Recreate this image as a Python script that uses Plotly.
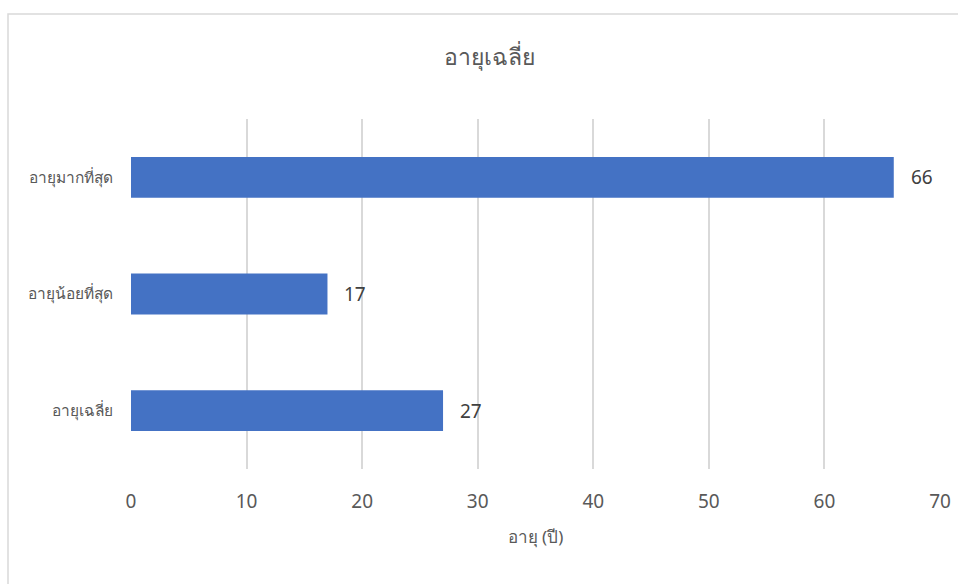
import plotly.graph_objects as go

categories = ["อายุเฉลี่ย", "อายุน้อยที่สุด", "อายุมากที่สุด"]
values = [27, 17, 66]
x_ticks = [0, 10, 20, 30, 40, 50, 60, 70]
title_text = "อายุเฉลี่ย"
x_title = "อายุ (ปี)"

FONT = "Noto Sans, Segoe UI, sans-serif"

fig = go.Figure()
fig.add_trace(go.Bar(
    y=categories, x=values, orientation="h",
    marker=dict(color="#4472C4", line=dict(width=0)),
    hoverinfo="skip",
))

for c, v in zip(categories, values):
    fig.add_annotation(x=v, y=c, xref="x", yref="y", text=str(v), showarrow=False,
                       xanchor="left", xshift=15,
                       font=dict(family=FONT, size=19, color="#404040"))

fig.update_layout(
    width=958, height=584,
    margin=dict(l=131, r=18, t=119, b=115, autoexpand=False),
    paper_bgcolor="white", plot_bgcolor="white",
    showlegend=False,
    bargap=0.65,
    title=dict(text=title_text, x=(489 - 131) / 809, xref="paper", xanchor="center",
               y=1 - 57 / 584, yref="container", yanchor="middle",
               font=dict(family=FONT, size=23, color="#595959")),
    xaxis=dict(range=[0, 70], tickvals=x_ticks, showgrid=True, gridcolor="#d9d9d9",
               gridwidth=1.6, zeroline=False, showline=False, ticks="",
               automargin=False,
               ticklabelstandoff=19,
               tickfont=dict(family=FONT, size=19, color="#595959"),
               title=dict(text=x_title, standoff=18,
                          font=dict(family=FONT, size=17, color="#595959"))),
    yaxis=dict(showgrid=False, zeroline=False, showline=False, ticks="",
               automargin=False,
               ticklabelstandoff=17,
               tickfont=dict(family=FONT, size=15.5, color="#595959")),
    shapes=[dict(type="rect", xref="paper", yref="paper",
                 x0=(8 - 131) / 809, x1=1.2, y0=-1, y1=(469 - 14) / 350,
                 line=dict(color="#d9d9d9", width=1.5), fillcolor="rgba(0,0,0,0)",
                 layer="below")],
)

fig.write_html("out.html", config={"displayModeBar": False},
               post_script="document.body.style.margin='0';document.body.style.overflow='hidden';")
